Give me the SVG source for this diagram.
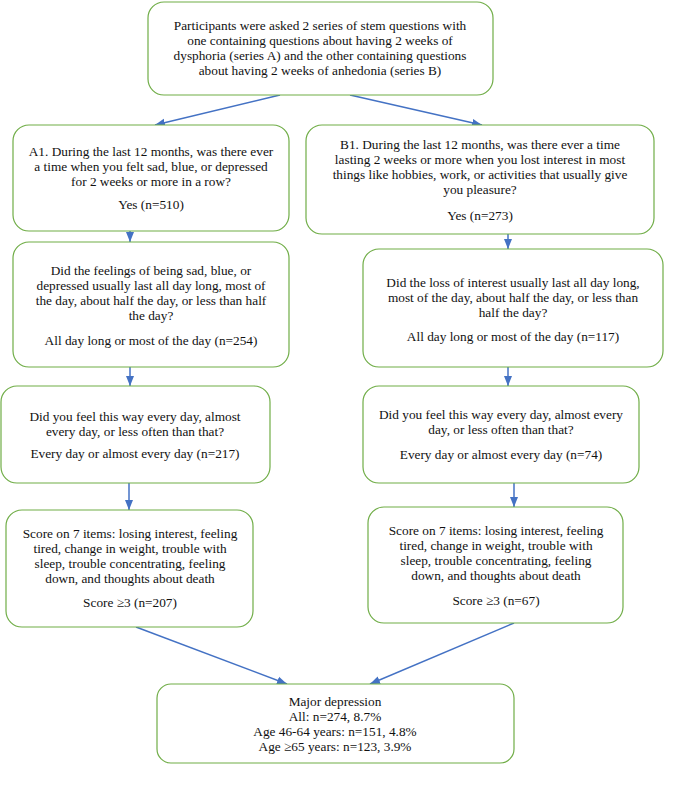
<svg xmlns="http://www.w3.org/2000/svg" width="675" height="800" viewBox="0 0 675 800">
<defs>
<style>
.box{fill:#fff;stroke:#70AD47;stroke-width:1.2}
text{font-family:"Liberation Serif","Times New Roman",serif;font-size:13.3px;fill:#111;text-anchor:middle}
.c{stroke:#4472C4;stroke-width:1.5;fill:none;marker-end:url(#ah)}
</style>
<marker id="ah" markerUnits="userSpaceOnUse" markerWidth="10" markerHeight="10" viewBox="0 0 10 10" refX="10" refY="5" orient="auto">
<path d="M0,1 L10,5 L0,9 Z" fill="#4472C4"/>
</marker>
</defs>
<rect width="675" height="800" fill="#fff"/>
<g id="connectors">
<line class="c" x1="280" y1="95" x2="155" y2="125"/>
<line class="c" x1="350" y1="95" x2="482" y2="125"/>
<line class="c" x1="130" y1="231" x2="130" y2="242"/>
<line class="c" x1="508" y1="234" x2="508" y2="249"/>
<line class="c" x1="130" y1="367" x2="130" y2="386"/>
<line class="c" x1="508" y1="367" x2="508" y2="386"/>
<line class="c" x1="129" y1="483" x2="129" y2="510"/>
<line class="c" x1="514" y1="483" x2="514" y2="507"/>
<line class="c" x1="136" y1="627" x2="287" y2="684"/>
<line class="c" x1="514" y1="623" x2="370" y2="684"/>
</g>
<g id="top">
<rect class="box" x="148" y="2" width="345" height="93" rx="16"/>
<text x="320" y="30">Participants were asked 2 series of stem questions with</text>
<text x="320" y="45">one containing questions about having 2 weeks of</text>
<text x="320" y="60">dysphoria (series A) and the other containing questions</text>
<text x="320" y="75">about having 2 weeks of anhedonia (series B)</text>
</g>
<g id="A1">
<rect class="box" x="13" y="125" width="276" height="106" rx="16"/>
<text x="151" y="156">A1. During the last 12 months, was there ever</text>
<text x="151" y="171">a time when you felt sad, blue, or depressed</text>
<text x="151" y="186">for 2 weeks or more in a row?</text>
<text x="151" y="209">Yes (n=510)</text>
</g>
<g id="B1">
<rect class="box" x="306" y="125" width="348" height="109" rx="16"/>
<text x="480" y="149">B1. During the last 12 months, was there ever a time</text>
<text x="480" y="164">lasting 2 weeks or more when you lost interest in most</text>
<text x="480" y="179">things like hobbies, work, or activities that usually give</text>
<text x="480" y="194">you pleasure?</text>
<text x="480" y="220">Yes (n=273)</text>
</g>
<g id="A2">
<rect class="box" x="13" y="242" width="276" height="125" rx="16"/>
<text x="151" y="275">Did the feelings of being sad, blue, or</text>
<text x="151" y="290">depressed usually last all day long, most of</text>
<text x="151" y="305">the day, about half the day, or less than half</text>
<text x="151" y="320">the day?</text>
<text x="151" y="345">All day long or most of the day (n=254)</text>
</g>
<g id="B2">
<rect class="box" x="363" y="249" width="300" height="118" rx="16"/>
<text x="513" y="287">Did the loss of interest usually last all day long,</text>
<text x="513" y="302">most of the day, about half the day, or less than</text>
<text x="513" y="317">half the day?</text>
<text x="513" y="341">All day long or most of the day (n=117)</text>
</g>
<g id="A3">
<rect class="box" x="1" y="386" width="269" height="97" rx="16"/>
<text x="135" y="421">Did you feel this way every day, almost</text>
<text x="135" y="436">every day, or less often than that?</text>
<text x="135" y="458">Every day or almost every day (n=217)</text>
</g>
<g id="B3">
<rect class="box" x="363" y="386" width="276" height="97" rx="16"/>
<text x="501" y="419">Did you feel this way every day, almost every</text>
<text x="501" y="434">day, or less often than that?</text>
<text x="501" y="459">Every day or almost every day (n=74)</text>
</g>
<g id="A4">
<rect class="box" x="6" y="510" width="247" height="117" rx="16"/>
<text x="130" y="538">Score on 7 items: losing interest, feeling</text>
<text x="130" y="553">tired, change in weight, trouble with</text>
<text x="130" y="568">sleep, trouble concentrating, feeling</text>
<text x="130" y="583">down, and thoughts about death</text>
<text x="130" y="607">Score ≥3 (n=207)</text>
</g>
<g id="B4">
<rect class="box" x="368" y="507" width="255" height="116" rx="16"/>
<text x="496" y="535">Score on 7 items: losing interest, feeling</text>
<text x="496" y="550">tired, change in weight, trouble with</text>
<text x="496" y="565">sleep, trouble concentrating, feeling</text>
<text x="496" y="580">down, and thoughts about death</text>
<text x="496" y="605">Score ≥3  (n=67)</text>
</g>
<g id="result">
<rect class="box" x="157" y="684" width="357" height="79" rx="14"/>
<text x="335" y="706">Major depression</text>
<text x="335" y="721">All: n=274, 8.7%</text>
<text x="335" y="736">Age 46-64 years: n=151, 4.8%</text>
<text x="335" y="751">Age ≥65 years: n=123, 3.9%</text>
</g>
</svg>
